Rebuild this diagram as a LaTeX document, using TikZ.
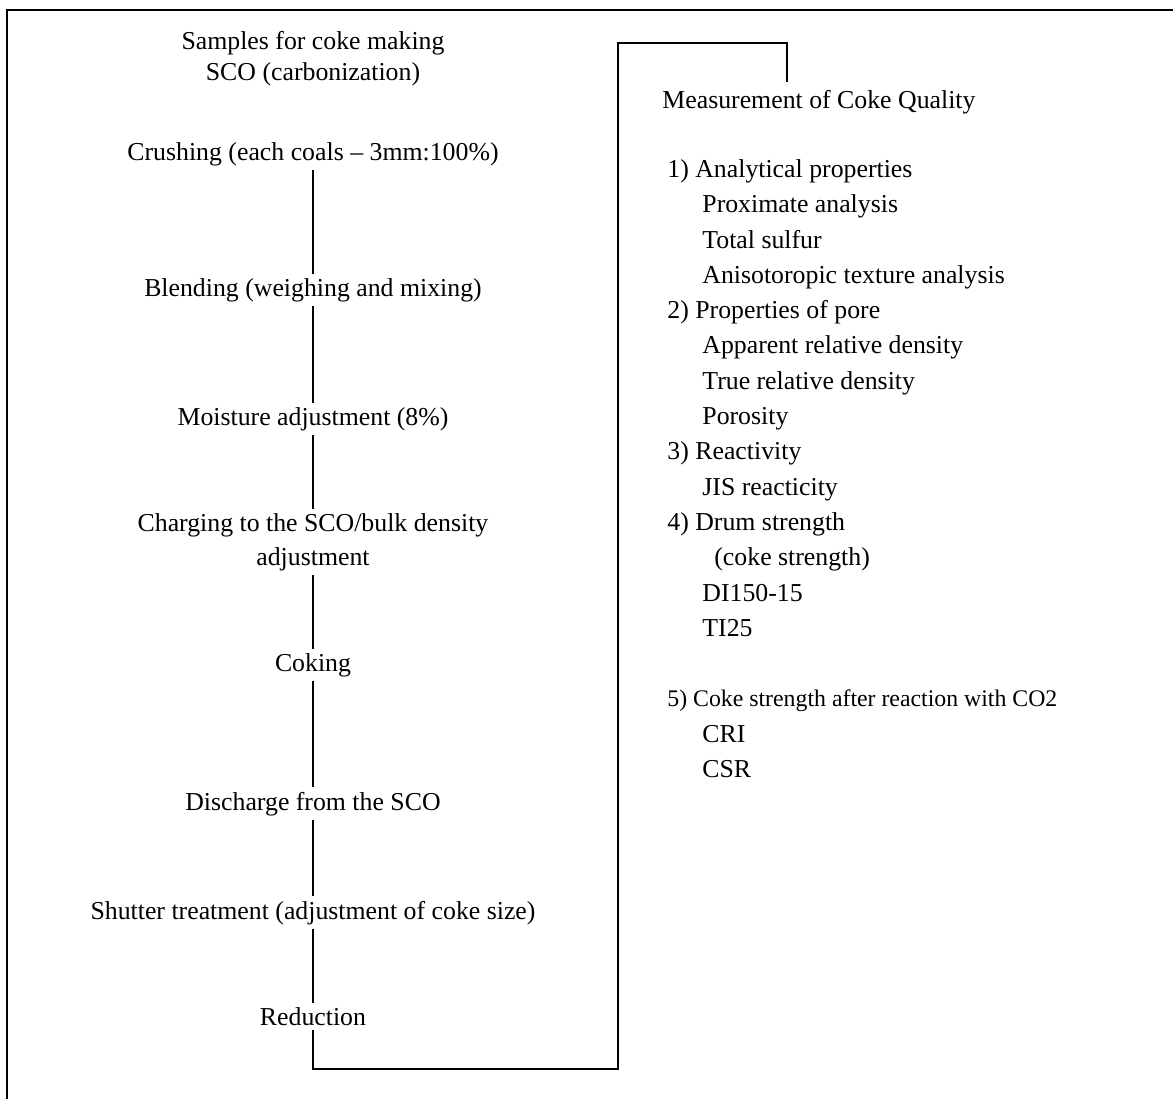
\documentclass[tikz,border=0pt]{standalone}
\usepackage{fontspec}
\setmainfont{Liberation Serif}
\begin{document}
\begin{tikzpicture}[
    x=0.5pt, y=-0.5pt,
    stage/.style={anchor=base, inner sep=2pt, align=center,
        font=\fontsize{12.9}{17}\selectfont},
    item/.style={anchor=base west, inner sep=0pt,
        font=\fontsize{12.9}{17}\selectfont},
    link/.style={line width=1pt, -}
]
    \useasboundingbox (0,0) rectangle (1173,1099);
    \draw[line width=1.3pt] (7,1099) -- (7,10) -- (1173,10);

    % process chain
    \node[stage] (samp) at (313,49) {Samples for coke making};
    \node[stage] (sco) at (313,80) {SCO (carbonization)};
    \node[stage] (crush) at (313,160) {Crushing (each coals -- 3mm:100\%)};
    \node[stage] (blend) at (313,296) {Blending (weighing and mixing)};
    \node[stage] (moist) at (313,425) {Moisture adjustment (8\%)};
    \node[stage] (charge) at (313,565) {Charging to the SCO/bulk density\\adjustment};
    \node[stage] (coking) at (313,671) {Coking};
    \node[stage] (disch) at (313,810) {Discharge from the SCO};
    \node[stage] (shut) at (313,919) {Shutter treatment (adjustment of coke size)};
    \node[stage] (red) at (313,1025) {Reduction};
    \draw[link] (crush) -- (blend);
    \draw[link] (blend) -- (moist);
    \draw[link] (moist) -- (charge);
    \draw[link] (charge) -- (coking);
    \draw[link] (coking) -- (disch);
    \draw[link] (disch) -- (shut);
    \draw[link] (shut) -- (red);

    % measurement list
    \node[item] (meas) at (662,108) {Measurement of Coke Quality};
    \coordinate (boxbl) at (618,1069);
    \coordinate (boxtl) at (618,43);
    \coordinate (drop) at (787,82);
    \draw[link] (red.south) |- (boxbl) -- (boxtl) -| (drop);

    \node[item] (m1) at (667,177) {1)\ Analytical properties};
    \node[item] (m1a) at (702,212) {Proximate analysis};
    \node[item] (m1b) at (702,248) {Total sulfur};
    \node[item] (m1c) at (702,283) {Anisotoropic texture analysis};
    \node[item] (m2) at (667,318) {2)\ Properties of pore};
    \node[item] (m2a) at (702,353) {Apparent relative density};
    \node[item] (m2b) at (702,389) {True relative density};
    \node[item] (m2c) at (702,424) {Porosity};
    \node[item] (m3) at (667,459) {3)\ Reactivity};
    \node[item] (m3a) at (702,495) {JIS reacticity};
    \node[item] (m4) at (667,530) {4)\ Drum strength};
    \node[item] (m4a) at (714,565) {(coke strength)};
    \node[item] (m4b) at (702,601) {DI150-15};
    \node[item] (m4c) at (702,636) {TI25};
    \node[item, font=\fontsize{11.9}{17}\selectfont] (m5) at (667,706) {5)\ Coke strength after reaction with CO2};
    \node[item] (m5a) at (702,742) {CRI};
    \node[item] (m5b) at (702,777) {CSR};
\end{tikzpicture}
\end{document}
